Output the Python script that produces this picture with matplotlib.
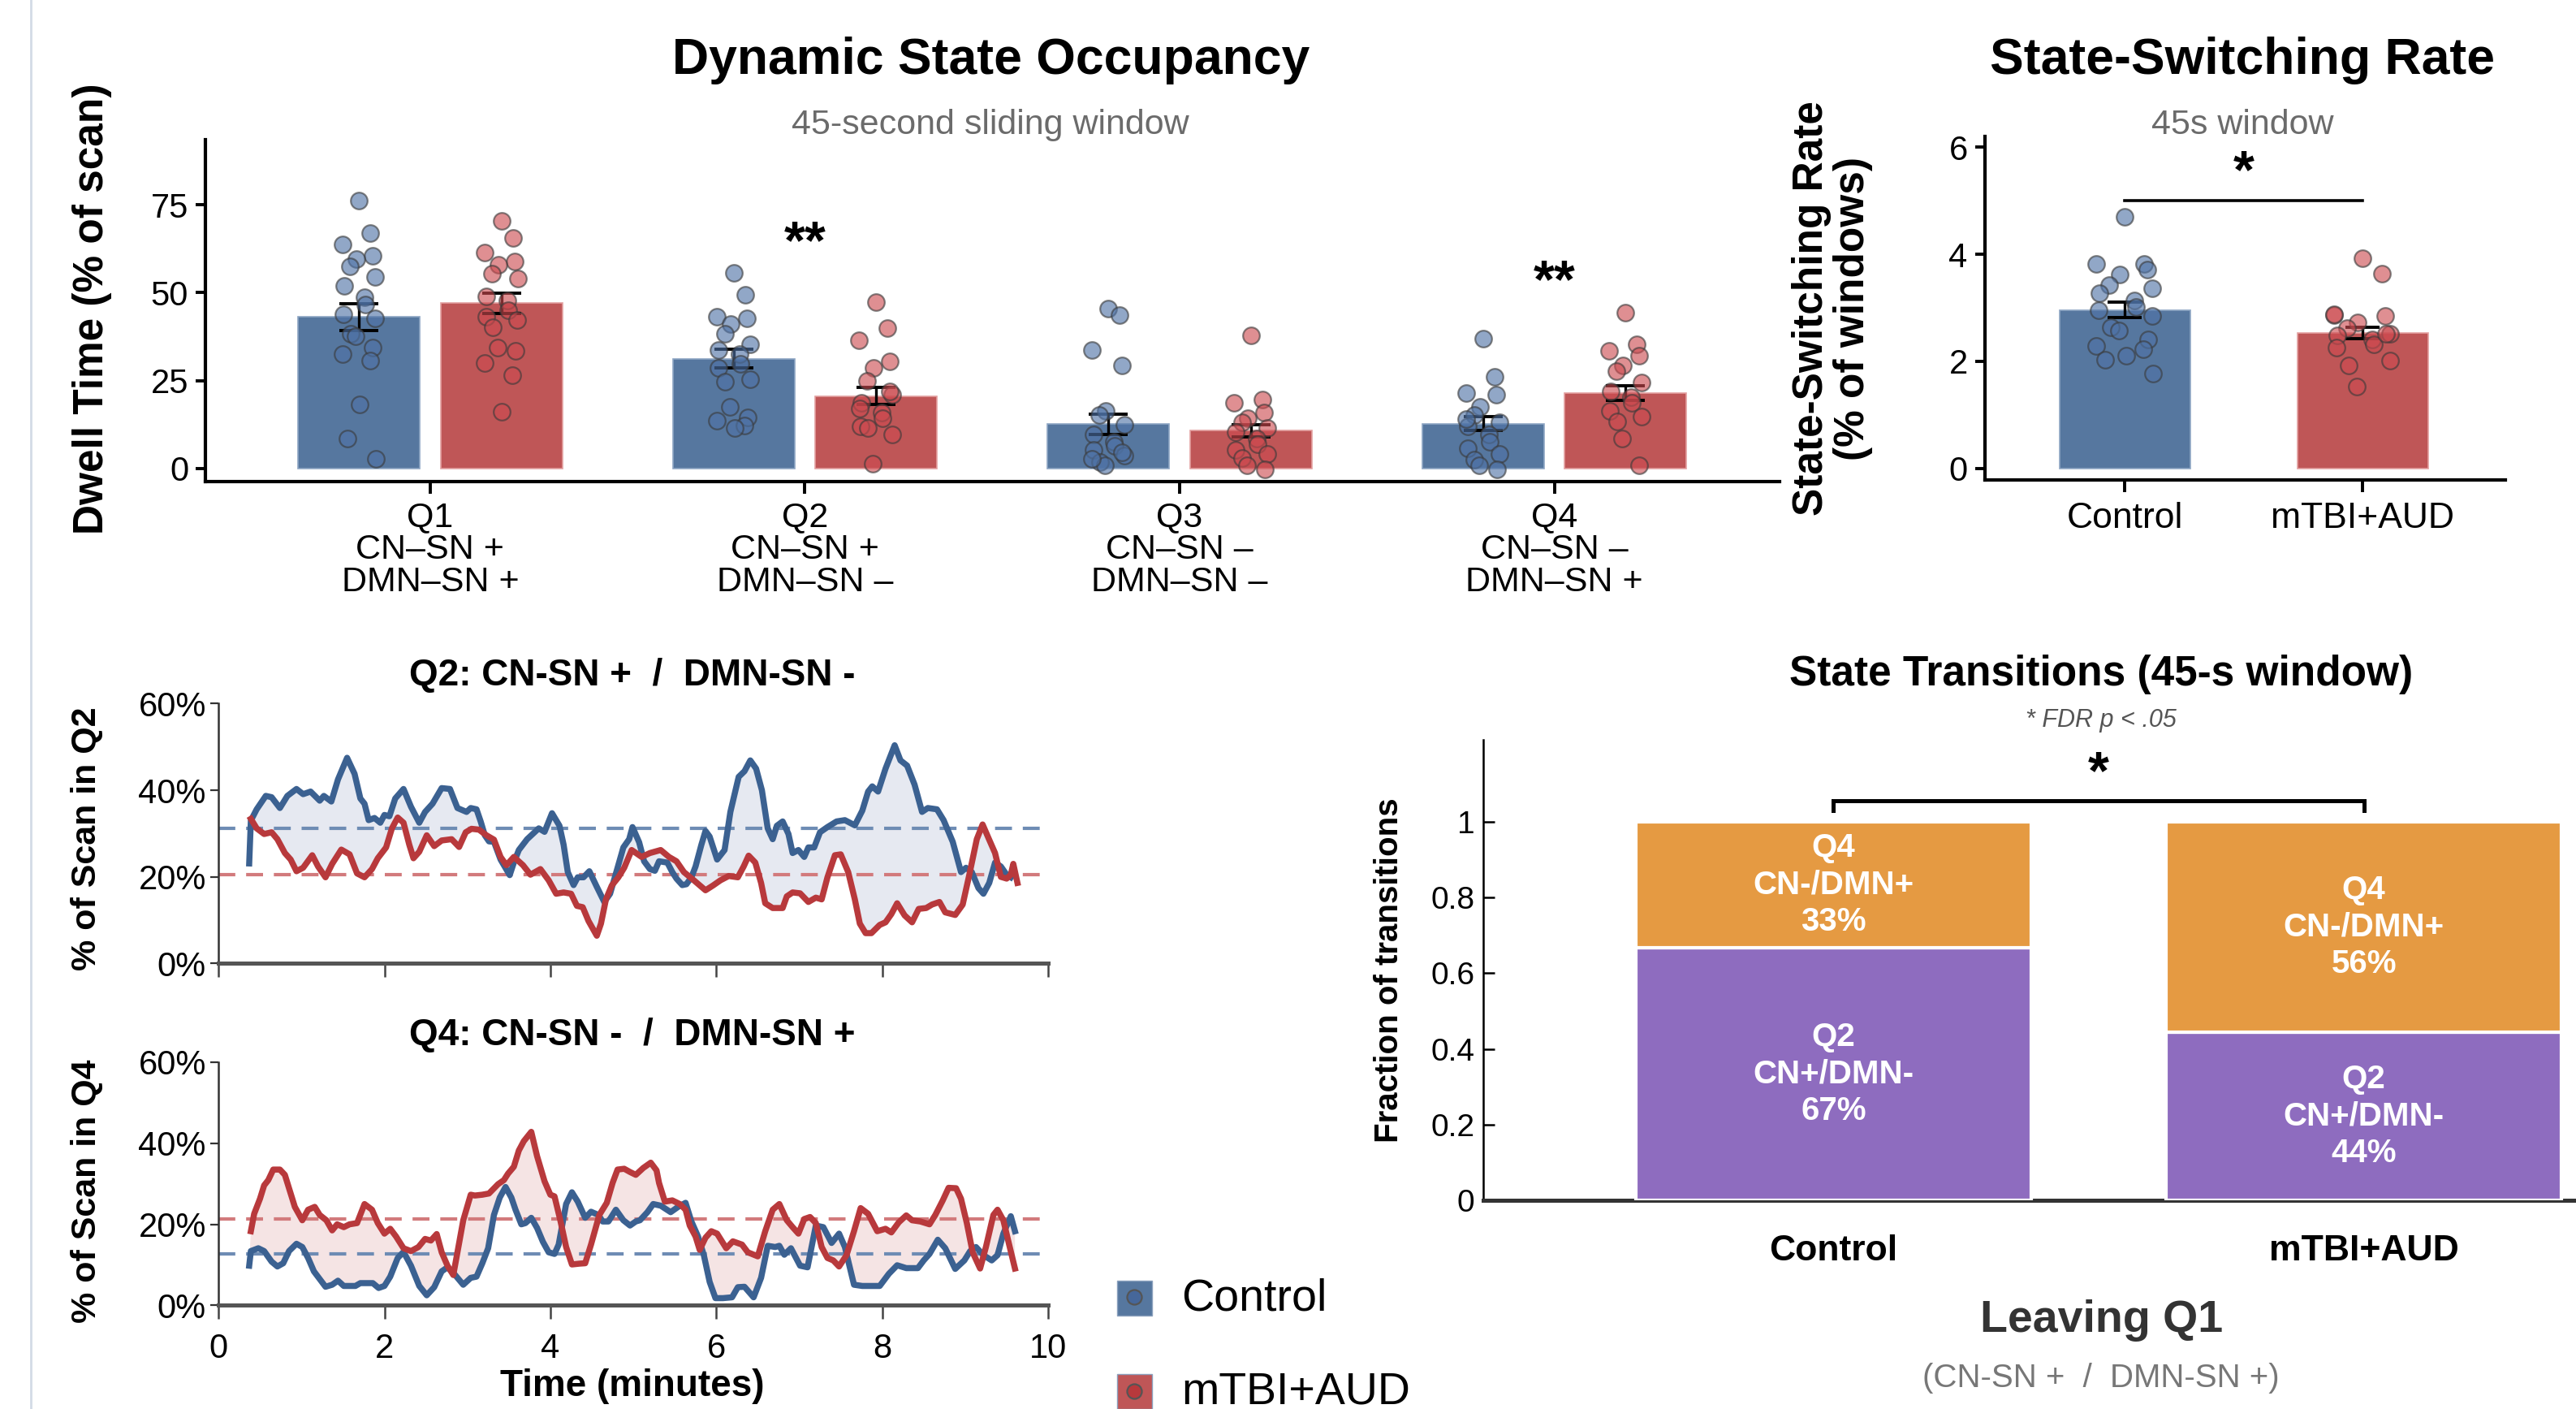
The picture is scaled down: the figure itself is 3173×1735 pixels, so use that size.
import numpy as np
import matplotlib
matplotlib.use("Agg")
import matplotlib.pyplot as plt
from matplotlib.patches import Rectangle
from matplotlib.lines import Line2D

plt.rcParams['font.family'] = ['Liberation Sans', 'DejaVu Sans']

# ---- data: dwell time per quadrant (% of scan) ----
quadrants = ['Q1', 'Q2', 'Q3', 'Q4']
quad_labels = ['Q1\nCN–SN +\nDMN–SN +', 'Q2\nCN–SN +\nDMN–SN –',
               'Q3\nCN–SN –\nDMN–SN –', 'Q4\nCN–SN –\nDMN–SN +']
dwell_ctrl = [43.1, 31.2, 12.6, 12.7]
dwell_ctrl_se = [3.85, 2.65, 2.9, 1.95]
dwell_aud = [47.0, 20.6, 10.7, 21.4]
dwell_aud_se = [2.95, 2.35, 1.75, 2.15]
dwell_ctrl_pts = [
    [76.1, 66.9, 63.8, 60.5, 59.5, 57.5, 54.4, 51.9, 48.8, 46.5, 43.8, 42.6, 38.2, 37.6, 34.3, 32.6, 30.7, 18.1, 8.6, 2.8],
    [55.7, 49.3, 43.2, 42.6, 41.0, 38.4, 35.4, 33.7, 32.6, 29.8, 28.7, 25.3, 24.6, 17.5, 14.4, 13.6, 12.1, 11.4],
    [45.4, 43.5, 33.7, 29.2, 16.4, 15.3, 12.5, 9.7, 7.5, 6.4, 5.2, 3.6, 1.9, 0.8, 4.5, 2.8],
    [36.8, 26.1, 21.4, 20.9, 17.5, 15.3, 13.1, 11.9, 9.7, 7.5, 5.8, 4.1, 2.5, 0.8, -0.3, 14.0],
]
dwell_aud_pts = [
    [70.3, 65.5, 61.3, 58.8, 57.9, 55.5, 54.1, 49.0, 47.7, 44.9, 43.2, 42.3, 40.2, 34.3, 33.5, 30.0, 26.5, 16.1],
    [47.4, 39.8, 36.5, 30.4, 28.7, 24.8, 20.9, 18.6, 15.8, 14.2, 11.9, 9.7, 11.4, 1.3, 22.0, 17.0],
    [37.8, 19.5, 18.6, 15.8, 14.2, 13.1, 11.4, 10.3, 8.6, 6.9, 5.2, 4.1, 3.0, 0.8, -0.3],
    [44.3, 35.4, 33.5, 32.0, 29.2, 27.6, 24.4, 22.0, 20.3, 18.6, 16.4, 14.7, 13.3, 8.4, 0.8],
]
dwell_sig = {1: '**', 3: '**'}
dwell_sig_y = {1: 63.8, 3: 52.7}

# ---- data: state switching rate ----
groups = ['Control', 'mTBI+AUD']
switch_mean = [2.96, 2.53]
switch_se = [0.15, 0.11]
switch_ctrl_pts = [4.70, 3.82, 3.82, 3.71, 3.62, 3.42, 3.37, 3.27, 3.14, 3.02,
                   2.95, 2.84, 2.63, 2.58, 2.40, 2.29, 2.22, 2.10, 2.03, 1.77]
switch_aud_pts = [3.93, 3.63, 2.86, 2.84, 2.73, 2.62, 2.51, 2.48, 2.40, 2.32,
                  2.25, 2.01, 1.92, 1.52, 2.52, 2.88]

# ---- data: time courses (minutes, % of scan) ----
q2_ctrl = [(0.37, 23.1), (0.39, 33.0), (0.46, 35.6), (0.57, 38.7), (0.64, 38.4), (0.74, 35.9), (0.83, 38.7),
           (0.94, 40.3), (1.02, 39.1), (1.11, 39.7), (1.22, 37.6), (1.27, 38.7), (1.36, 37.4), (1.44, 42.5),
           (1.55, 47.5), (1.64, 43.8), (1.71, 38.1), (1.76, 36.9), (1.81, 33.1), (1.88, 33.6), (1.95, 32.5),
           (2.00, 34.3), (2.06, 34.0), (2.13, 38.1), (2.23, 40.3), (2.32, 36.2), (2.42, 32.5), (2.49, 35.0),
           (2.58, 36.9), (2.69, 40.5), (2.79, 40.3), (2.88, 35.9), (2.99, 35.0), (3.04, 35.9), (3.11, 35.6),
           (3.16, 32.8), (3.21, 29.6), (3.26, 28.2), (3.32, 28.1), (3.40, 24.0), (3.51, 20.4), (3.56, 23.3),
           (3.62, 26.2), (3.72, 28.7), (3.86, 31.2), (3.93, 30.4), (4.02, 34.7), (4.11, 31.8), (4.16, 27.4),
           (4.21, 21.1), (4.28, 18.1), (4.33, 19.9), (4.40, 19.9), (4.47, 21.3), (4.56, 17.7), (4.65, 14.2),
           (4.72, 16.1), (4.81, 22.1), (4.88, 26.8), (4.95, 28.7), (4.99, 31.5), (5.07, 28.0), (5.13, 23.6),
           (5.20, 21.8), (5.26, 21.4), (5.31, 23.6), (5.41, 23.3), (5.47, 21.1), (5.52, 19.6), (5.59, 18.1),
           (5.64, 18.3), (5.70, 19.9), (5.75, 22.4), (5.82, 27.4), (5.87, 30.6), (5.92, 29.3), (6.01, 24.0),
           (6.10, 26.2), (6.17, 35.0), (6.27, 43.1), (6.34, 44.4), (6.41, 46.9), (6.48, 45.0), (6.55, 40.0),
           (6.62, 31.2), (6.68, 28.7), (6.73, 31.8), (6.80, 32.8), (6.87, 29.9), (6.92, 25.5), (6.99, 26.2),
           (7.06, 24.6), (7.11, 26.8), (7.18, 26.8), (7.25, 30.3), (7.34, 31.5), (7.45, 32.8), (7.55, 33.1),
           (7.67, 31.9), (7.76, 35.3), (7.83, 39.7), (7.88, 40.9), (7.95, 39.7), (8.04, 45.0), (8.15, 50.4),
           (8.22, 46.9), (8.30, 45.7), (8.39, 41.3), (8.48, 35.0), (8.55, 35.9), (8.66, 35.6), (8.74, 33.1),
           (8.85, 28.1), (8.95, 21.1), (9.01, 22.1), (9.08, 21.1), (9.16, 17.4), (9.22, 16.1), (9.29, 18.6),
           (9.36, 23.3), (9.43, 22.4), (9.50, 20.5), (9.55, 19.9)]
q2_aud = [(0.39, 33.4), (0.46, 31.2), (0.55, 29.9), (0.64, 30.3), (0.71, 28.7), (0.80, 25.5), (0.87, 24.0),
          (0.94, 21.3), (1.02, 22.1), (1.13, 25.0), (1.20, 22.4), (1.29, 19.9), (1.37, 23.0), (1.48, 26.3),
          (1.58, 25.2), (1.67, 20.8), (1.76, 19.9), (1.85, 21.8), (1.92, 24.3), (2.02, 26.8), (2.09, 31.2),
          (2.16, 33.7), (2.23, 32.5), (2.30, 27.4), (2.35, 24.3), (2.42, 25.8), (2.51, 29.6), (2.60, 27.1),
          (2.69, 28.4), (2.81, 28.7), (2.90, 26.9), (2.98, 30.3), (3.05, 31.1), (3.14, 30.9), (3.23, 29.6),
          (3.32, 28.6), (3.40, 24.6), (3.47, 22.7), (3.56, 24.6), (3.67, 22.7), (3.76, 20.5), (3.88, 21.8),
          (3.98, 19.2), (4.07, 16.1), (4.16, 16.4), (4.25, 16.1), (4.32, 13.3), (4.39, 13.0), (4.46, 9.8),
          (4.56, 6.4), (4.61, 9.2), (4.67, 14.8), (4.74, 18.0), (4.82, 19.9), (4.89, 22.1), (4.98, 26.2),
          (5.10, 24.6), (5.20, 25.5), (5.33, 26.2), (5.43, 24.6), (5.52, 23.6), (5.61, 21.1), (5.73, 19.2),
          (5.87, 16.9), (5.96, 18.0), (6.05, 19.2), (6.15, 20.2), (6.26, 19.9), (6.33, 22.4), (6.39, 24.9),
          (6.47, 23.3), (6.54, 18.6), (6.59, 13.9), (6.68, 12.8), (6.80, 12.8), (6.85, 15.5), (6.92, 16.4),
          (7.01, 16.2), (7.11, 14.2), (7.20, 15.2), (7.27, 14.8), (7.34, 19.9), (7.43, 25.0), (7.50, 25.2),
          (7.59, 21.1), (7.67, 14.8), (7.73, 9.2), (7.80, 7.0), (7.87, 7.0), (7.97, 8.9), (8.04, 9.5),
          (8.11, 11.4), (8.18, 13.9), (8.27, 11.1), (8.36, 9.5), (8.44, 12.6), (8.53, 12.8), (8.60, 13.6),
          (8.69, 14.2), (8.76, 11.8), (8.88, 11.2), (8.97, 13.6), (9.05, 20.5), (9.14, 28.7), (9.21, 32.1),
          (9.28, 29.0), (9.36, 25.5), (9.43, 20.0), (9.50, 19.6), (9.55, 20.5), (9.58, 23.0), (9.63, 18.6)]
q4_ctrl = [(0.37, 9.8), (0.39, 13.4), (0.48, 14.1), (0.55, 13.4), (0.64, 10.8), (0.71, 9.6), (0.78, 10.4),
           (0.85, 13.4), (0.94, 15.2), (1.01, 14.4), (1.08, 11.7), (1.15, 8.4), (1.22, 6.5), (1.29, 4.6),
           (1.37, 5.1), (1.44, 6.1), (1.51, 4.8), (1.65, 4.8), (1.71, 5.5), (1.86, 5.5), (1.93, 4.3),
           (2.00, 4.8), (2.07, 7.1), (2.16, 11.7), (2.23, 13.2), (2.32, 9.8), (2.42, 4.8), (2.51, 2.5),
           (2.60, 4.5), (2.69, 8.4), (2.76, 9.4), (2.84, 7.8), (2.95, 5.1), (3.04, 6.8), (3.11, 7.1),
           (3.18, 10.4), (3.25, 14.1), (3.32, 22.3), (3.39, 26.6), (3.46, 29.2), (3.53, 26.6), (3.58, 23.6),
           (3.65, 20.0), (3.70, 20.3), (3.77, 21.6), (3.84, 19.1), (3.91, 15.7), (3.98, 13.1), (4.05, 12.7),
           (4.10, 15.0), (4.19, 25.0), (4.26, 27.9), (4.33, 25.6), (4.42, 21.6), (4.49, 23.1), (4.58, 22.3),
           (4.63, 20.7), (4.70, 20.7), (4.79, 23.6), (4.88, 21.0), (4.96, 19.7), (5.03, 20.7), (5.08, 21.0),
           (5.17, 23.0), (5.24, 25.0), (5.33, 24.6), (5.45, 23.0), (5.54, 24.3), (5.63, 25.3), (5.70, 20.7),
           (5.78, 17.0), (5.85, 12.4), (5.92, 5.8), (5.99, 1.8), (6.08, 1.8), (6.19, 2.0), (6.26, 4.5),
           (6.34, 4.6), (6.45, 2.0), (6.54, 6.8), (6.62, 14.7), (6.71, 14.4), (6.76, 14.7), (6.82, 12.5),
           (6.90, 14.1), (7.01, 9.8), (7.10, 9.4), (7.20, 19.7), (7.29, 19.3), (7.39, 15.4), (7.48, 17.7),
           (7.55, 14.4), (7.66, 5.1), (7.76, 4.8), (7.97, 4.8), (8.08, 7.8), (8.18, 9.9), (8.29, 9.2),
           (8.43, 9.2), (8.50, 11.1), (8.57, 12.7), (8.67, 16.2), (8.76, 14.1), (8.88, 9.0), (8.99, 11.1),
           (9.06, 13.4), (9.13, 14.4), (9.22, 12.4), (9.32, 11.1), (9.39, 12.4), (9.46, 17.7), (9.55, 22.0),
           (9.60, 18.3)]
q4_aud = [(0.39, 18.3), (0.43, 22.6), (0.50, 26.3), (0.55, 29.6), (0.60, 30.9), (0.66, 33.5), (0.74, 33.5),
          (0.80, 32.2), (0.85, 28.9), (0.92, 24.3), (1.01, 21.0), (1.08, 23.6), (1.16, 24.3), (1.22, 22.3),
          (1.30, 21.0), (1.37, 18.5), (1.43, 20.0), (1.51, 19.3), (1.58, 20.0), (1.67, 20.3), (1.76, 25.0),
          (1.85, 23.6), (1.92, 20.3), (2.00, 17.7), (2.07, 18.9), (2.14, 17.0), (2.23, 14.1), (2.32, 13.4),
          (2.41, 14.4), (2.49, 16.4), (2.56, 16.0), (2.63, 17.6), (2.69, 13.1), (2.76, 9.8), (2.83, 7.5),
          (2.88, 13.1), (2.95, 21.0), (3.04, 27.3), (3.09, 27.1), (3.18, 27.3), (3.26, 27.6), (3.37, 29.9),
          (3.44, 30.9), (3.49, 32.5), (3.56, 34.2), (3.62, 38.2), (3.68, 40.5), (3.77, 42.8), (3.84, 36.8),
          (3.93, 30.6), (4.00, 27.3), (4.05, 26.9), (4.12, 21.0), (4.19, 14.4), (4.26, 10.1), (4.35, 10.3),
          (4.42, 10.4), (4.49, 15.0), (4.59, 22.3), (4.68, 25.3), (4.75, 30.2), (4.81, 33.5), (4.89, 33.7),
          (4.96, 32.9), (5.03, 32.2), (5.12, 33.9), (5.21, 35.2), (5.28, 33.3), (5.31, 30.2), (5.38, 25.6),
          (5.47, 25.9), (5.56, 25.0), (5.63, 23.6), (5.68, 19.7), (5.75, 17.0), (5.80, 13.7), (5.87, 16.7),
          (5.94, 18.3), (6.01, 17.7), (6.12, 14.1), (6.20, 15.8), (6.31, 15.0), (6.38, 13.1), (6.50, 12.1),
          (6.59, 18.3), (6.68, 23.6), (6.76, 25.0), (6.85, 21.0), (6.92, 19.3), (6.99, 17.7), (7.06, 21.3),
          (7.13, 21.8), (7.20, 20.3), (7.27, 14.4), (7.34, 11.7), (7.41, 11.1), (7.48, 9.6), (7.57, 12.4),
          (7.66, 18.3), (7.74, 24.0), (7.83, 22.6), (7.94, 18.3), (8.04, 18.9), (8.11, 18.0), (8.20, 20.5),
          (8.29, 22.2), (8.36, 21.0), (8.46, 20.7), (8.57, 20.0), (8.64, 22.3), (8.73, 25.9), (8.80, 29.0),
          (8.89, 28.9), (8.95, 26.3), (9.02, 20.3), (9.09, 13.1), (9.18, 9.1), (9.25, 14.4), (9.34, 22.3),
          (9.39, 23.6), (9.46, 21.0), (9.53, 15.0), (9.60, 9.1)]

# ---- data: transitions leaving Q1 ----
trans_groups = ['Control', 'mTBI+AUD']
to_q2 = [0.667, 0.444]
to_q4 = [0.333, 0.556]

BLUE = '#56779f'
RED = '#bf5657'
PT_BLUE = '#4e72a6'
PT_RED = '#cc4a4f'
LN_BLUE = '#3b6191'
LN_RED = '#b8393c'
PURPLE = '#8e6cbf'
ORANGE = '#e59a42'

W, H = 1568, 857  # layout measured on the reference thumbnail


def fx(x):
    return x / W


def fy(y):
    return 1 - y / H


def box(left, top, right, bottom):
    return [fx(left), fy(bottom), fx(right) - fx(left), fy(top) - fy(bottom)]


def jitter(n, width):
    return width * np.sin(np.arange(n) * 2.39996)


fig = plt.figure(figsize=(3173 / 200, 1735 / 200), dpi=200)

# faint page border at the left
fig.add_artist(Line2D([fx(19), fx(19)], [0, 1], color='#d3dbe6', lw=1.0))

# ================= Dynamic State Occupancy =================
ax1 = fig.add_axes(box(125, 85, 1083, 293))
x = np.arange(1, 5)
off, bw = 0.19, 0.325
ax1.bar(x - off, dwell_ctrl, width=bw, color=BLUE, edgecolor='#8ea6c4', lw=0.6, zorder=1)
ax1.bar(x + off, dwell_aud, width=bw, color=RED, edgecolor='#e3a0a0', lw=0.6, zorder=1)
ax1.errorbar(x - off, dwell_ctrl, yerr=dwell_ctrl_se, fmt='none', ecolor='black',
             capsize=8.5, elinewidth=1.2, capthick=1.4, zorder=2)
ax1.errorbar(x + off, dwell_aud, yerr=dwell_aud_se, fmt='none', ecolor='black',
             capsize=8.5, elinewidth=1.2, capthick=1.4, zorder=2)
for i in range(4):
    pc = dwell_ctrl_pts[i]
    pa = dwell_aud_pts[i]
    ax1.scatter(x[i] - off + jitter(len(pc), 0.045), pc, s=55, color=PT_BLUE, alpha=0.62,
                edgecolors='#3a3a3a', linewidths=0.8, zorder=3)
    ax1.scatter(x[i] + off + jitter(len(pa), 0.045), pa, s=55, color=PT_RED, alpha=0.62,
                edgecolors='#3a3a3a', linewidths=0.8, zorder=3)
for i, s in dwell_sig.items():
    ax1.text(x[i], dwell_sig_y[i], s, ha='center', va='center', fontsize=24, fontweight='bold')
ax1.set_xlim(0.4, 4.6)
ax1.set_ylim(-3.8, 93.5)
ax1.set_yticks([0, 25, 50, 75])
ax1.set_xticks(x)
ax1.set_xticklabels(quad_labels, fontsize=15.5, linespacing=1.0)
ax1.tick_params(axis='y', labelsize=15, width=1.4, length=4.5, pad=3)
ax1.tick_params(axis='x', width=1.4, length=5.5, pad=3)
for sp in ['top', 'right']:
    ax1.spines[sp].set_visible(False)
for sp in ['left', 'bottom']:
    ax1.spines[sp].set_linewidth(1.5)
ax1.set_ylabel('Dwell Time (% of scan)', fontsize=18.5, fontweight='bold')
ax1.yaxis.set_label_coords(-0.0595, 0.505)
fig.text(fx(603), fy(37), 'Dynamic State Occupancy', ha='center', va='center',
         fontsize=22.5, fontweight='bold')
fig.text(fx(603), fy(76), '45-second sliding window', ha='center', va='center',
         fontsize=15.5, color='#6b6b6b')

# ================= State-Switching Rate =================
ax2 = fig.add_axes(box(1208, 83, 1525, 292))
gx = np.arange(2)
ax2.bar(gx, switch_mean, width=0.55, color=[BLUE, RED], edgecolor=['#8ea6c4', '#e3a0a0'],
        lw=0.6, zorder=1)
ax2.errorbar(gx, switch_mean, yerr=switch_se, fmt='none', ecolor='black',
             capsize=7.5, elinewidth=1.2, capthick=1.4, zorder=2)
ax2.scatter(gx[0] + jitter(len(switch_ctrl_pts), 0.12), switch_ctrl_pts, s=55, color=PT_BLUE,
            alpha=0.62, edgecolors='#3a3a3a', linewidths=0.8, zorder=3)
ax2.scatter(gx[1] + jitter(len(switch_aud_pts), 0.12), switch_aud_pts, s=55, color=PT_RED,
            alpha=0.62, edgecolors='#3a3a3a', linewidths=0.8, zorder=3)
ax2.plot([0, 1], [5.0, 5.0], color='black', lw=1.3)
ax2.text(0.5, 5.5, '*', ha='center', va='center', fontsize=24, fontweight='bold')
ax2.set_xlim(-0.59, 1.6)
ax2.set_ylim(-0.22, 6.2)
ax2.set_yticks([0, 2, 4, 6])
ax2.set_xticks(gx)
ax2.set_xticklabels(groups, fontsize=16)
ax2.tick_params(axis='y', labelsize=15, width=1.4, length=4.5, pad=3)
ax2.tick_params(axis='x', width=1.4, length=5.5, pad=4)
for sp in ['top', 'right']:
    ax2.spines[sp].set_visible(False)
for sp in ['left', 'bottom']:
    ax2.spines[sp].set_linewidth(1.5)
ax2.set_ylabel('State-Switching Rate\n(% of windows)', fontsize=18.5, fontweight='bold',
               linespacing=1.05)
ax2.yaxis.set_label_coords(-0.215, 0.5)
fig.text(fx(1365), fy(37), 'State-Switching Rate', ha='center', va='center',
         fontsize=22.5, fontweight='bold')
fig.text(fx(1365), fy(76), '45s window', ha='center', va='center',
         fontsize=15.5, color='#6b6b6b')


# ================= time courses =================
def time_panel(ax, ctrl, aud, mean_c, mean_a, fill_color):
    tc, vc = np.array(ctrl).T
    ta, va = np.array(aud).T
    ax.fill(np.concatenate([tc, ta[::-1]]), np.concatenate([vc, va[::-1]]),
            color=fill_color, lw=0, zorder=1)
    ax.axhline(mean_c, color='#6e8cb4', lw=1.5, dashes=(5, 3.2), zorder=2)
    ax.axhline(mean_a, color='#d27a7c', lw=1.5, dashes=(5, 3.2), zorder=2)
    ax.plot(tc, vc, color=LN_BLUE, lw=2.7, zorder=3, solid_joinstyle='round')
    ax.plot(ta, va, color=LN_RED, lw=2.7, zorder=4, solid_joinstyle='round')
    ax.set_xlim(0, 10)
    ax.set_ylim(0, 60)
    ax.set_yticks([0, 20, 40, 60])
    ax.set_yticklabels(['0%', '20%', '40%', '60%'])
    ax.set_xticks([0, 2, 4, 6, 8, 10])
    ax.tick_params(axis='y', labelsize=15, length=3.5, width=0.8, pad=2, color='#333333')
    ax.tick_params(axis='x', labelsize=15, length=6, width=0.9, pad=6, color='#444444')
    for sp in ['top', 'right']:
        ax.spines[sp].set_visible(False)
    ax.spines['left'].set_linewidth(0.9)
    ax.spines['left'].set_color('#333333')
    ax.spines['bottom'].set_linewidth(1.8)
    ax.spines['bottom'].set_color('#555555')


ax3 = fig.add_axes(box(133, 428, 638, 586))
time_panel(ax3, q2_ctrl, q2_aud, dwell_ctrl[1], dwell_aud[1], '#e6e9f1')
ax3.set_xticklabels([])
ax3.set_ylabel('% of Scan in Q2', fontsize=15.5, fontweight='bold')
ax3.yaxis.set_label_coords(-0.139, 0.48)
fig.text(fx(385), fy(411), 'Q2: CN-SN +  /  DMN-SN -', ha='center', va='center',
         fontsize=16.5, fontweight='bold')

ax4 = fig.add_axes(box(133, 646, 638, 794))
time_panel(ax4, q4_ctrl, q4_aud, dwell_ctrl[3], dwell_aud[3], '#f5e4e4')
ax4.set_ylabel('% of Scan in Q4', fontsize=15.5, fontweight='bold')
ax4.yaxis.set_label_coords(-0.139, 0.47)
fig.text(fx(385), fy(630), 'Q4: CN-SN -  /  DMN-SN +', ha='center', va='center',
         fontsize=16.5, fontweight='bold')
fig.text(fx(385), fy(843), 'Time (minutes)', ha='center', va='center',
         fontsize=16.5, fontweight='bold')

# legend (drawn by hand, partly cut off by the figure edge)
for (yc, label, sq, dot) in [(789, 'Control', BLUE, '#46679a'), (846, 'mTBI+AUD', RED, '#b8393c')]:
    fig.add_artist(Rectangle((fx(680), fy(yc + 11)), fx(21), fy(0) - fy(21),
                             transform=fig.transFigure, facecolor=sq, edgecolor='#8aa0bd', lw=0.5))
    fig.add_artist(Line2D([fx(690.5)], [fy(yc)], marker='o', ms=6.5, color=dot,
                          markeredgecolor='#555555', markeredgewidth=0.8,
                          transform=fig.transFigure))
    fig.text(fx(719), fy(yc + 1), label, ha='left', va='center', fontsize=20)

# ================= State Transitions =================
ax5 = fig.add_axes(box(903, 450, 1568, 730))
tx = np.arange(2)
ax5.bar(tx, to_q2, width=0.746, color=PURPLE, edgecolor='white', lw=1.5, zorder=3)
ax5.bar(tx, to_q4, width=0.746, bottom=to_q2, color=ORANGE, edgecolor='white', lw=1.5, zorder=3)
for i in range(2):
    ax5.text(tx[i], to_q2[i] / 2, 'Q2\nCN+/DMN-\n%d%%' % round(to_q2[i] * 100),
             ha='center', va='center', color='white', fontsize=14.5, fontweight='bold',
             linespacing=1.25, zorder=5)
    ax5.text(tx[i], to_q2[i] + to_q4[i] / 2, 'Q4\nCN-/DMN+\n%d%%' % round(to_q4[i] * 100),
             ha='center', va='center', color='white', fontsize=14.5, fontweight='bold',
             linespacing=1.25, zorder=5)
ax5.plot([0, 0, 1, 1], [1.03, 1.057, 1.057, 1.03], color='black', lw=1.8,
         clip_on=False, solid_joinstyle='miter')
ax5.text(0.5, 1.125, '*', ha='center', va='center', fontsize=24, fontweight='bold')
ax5.set_xlim(-0.66, 1.40)
ax5.set_ylim(0, 1.217)
ax5.set_yticks([0, 0.2, 0.4, 0.6, 0.8, 1.0])
ax5.set_yticklabels(['0', '0.2', '0.4', '0.6', '0.8', '1'])
ax5.set_xticks(tx)
ax5.set_xticklabels(trans_groups, fontsize=16, fontweight='bold')
ax5.tick_params(axis='y', labelsize=14, direction='in', length=5, width=0.9, pad=4)
ax5.tick_params(axis='x', length=0, pad=15)
for sp in ['top', 'right']:
    ax5.spines[sp].set_visible(False)
ax5.spines['left'].set_linewidth(0.9)
ax5.spines['bottom'].set_linewidth(1.8)
ax5.spines['bottom'].set_color('#333333')
ax5.set_ylabel('Fraction of transitions', fontsize=14.5, fontweight='bold')
ax5.yaxis.set_label_coords(-0.072, 0.5)
fig.text(fx(1279), fy(410), 'State Transitions (45-s window)', ha='center', va='center',
         fontsize=18.5, fontweight='bold')
fig.text(fx(1279), fy(438), '* FDR p < .05', ha='center', va='center',
         fontsize=11, style='italic', color='#555555')
fig.text(fx(1279), fy(803), 'Leaving Q1', ha='center', va='center',
         fontsize=20, fontweight='bold', color='#333333')
fig.text(fx(1279), fy(838), '(CN-SN +  /  DMN-SN +)', ha='center', va='center',
         fontsize=14.5, color='#777777')

fig.savefig('out.png', dpi=200)
